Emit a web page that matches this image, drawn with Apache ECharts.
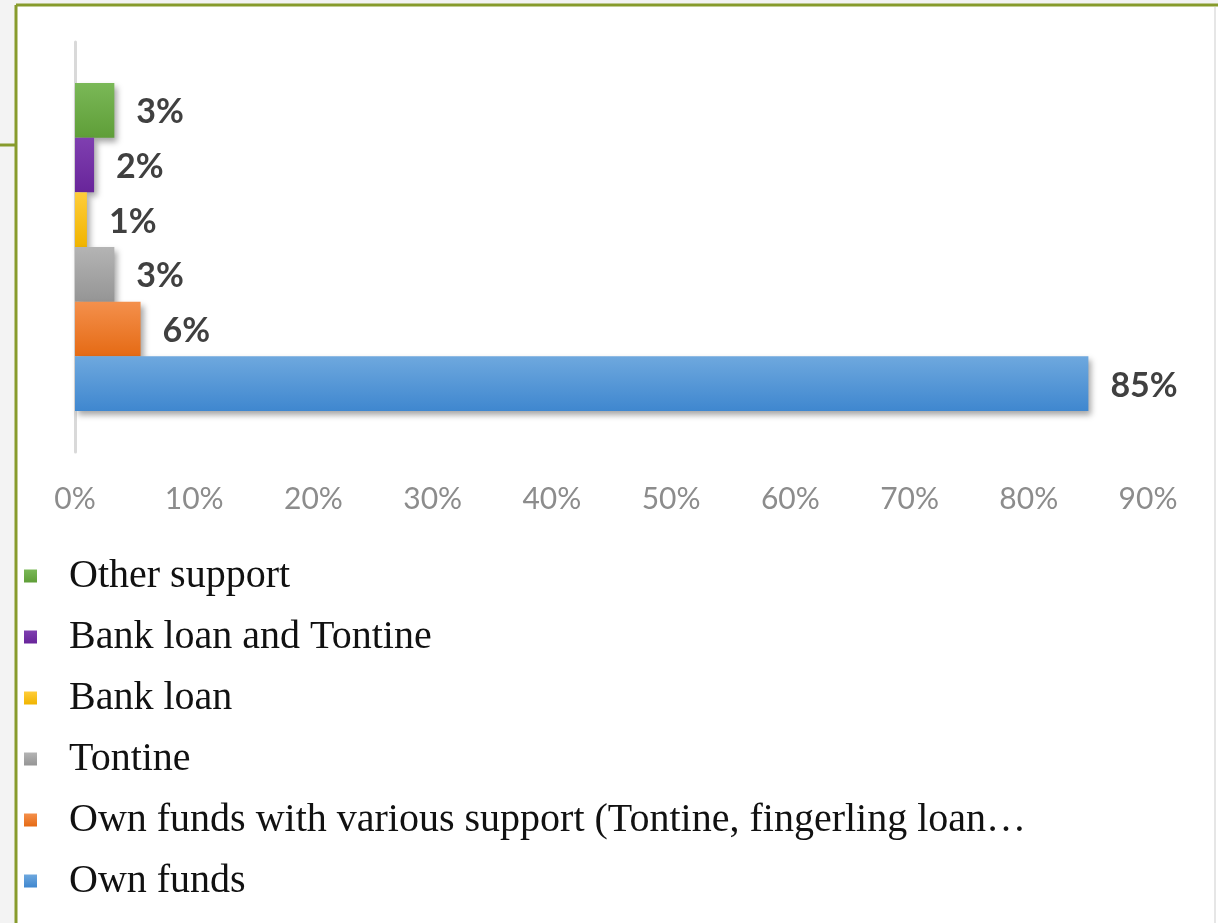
<!DOCTYPE html>
<html>
<head>
<meta charset="utf-8">
<script src="https://cdn.jsdelivr.net/npm/echarts@6/dist/echarts.min.js"></script>
<style>
  html, body { margin: 0; padding: 0; background: #fff; }
  #chart { width: 1218px; height: 923px; }
</style>
</head>
<body>
<div id="chart"></div>
<script>
// data (top bar first)
var categories = ['Funding source']
var seriesNames = [
  'Other support',
  'Bank loan and Tontine',
  'Bank loan',
  'Tontine',
  'Own funds with various support (Tontine, fingerling loan\u2026',
  'Own funds'
]
var values = [3.3, 1.6, 1, 3.3, 5.5, 85]
var topColors = ['#7ab857', '#7f3fb0', '#ffcd3a', '#b4b4b4', '#f4904c', '#6ea8de']
var bottomColors = ['#5f9e38', '#68259a', '#f0b400', '#959595', '#e56a14', '#3f87cf']
var xMax = 90
var xStep = 10

var myChart = echarts.init(document.getElementById('chart'))

var series = seriesNames.map(function (name, i) {
  return {
    name: name,
    type: 'bar',
    barGap: '0%',
    barCategoryGap: '20%',
    data: [values[i]],
    itemStyle: {
      color: new echarts.graphic.LinearGradient(0, 0, 0, 1, [
        { offset: 0, color: topColors[i] },
        { offset: 1, color: bottomColors[i] }
      ]),
      shadowColor: 'rgba(0,0,0,0.35)',
      shadowBlur: 6,
      shadowOffsetX: 3,
      shadowOffsetY: 4
    },
    label: {
      show: true,
      position: 'right',
      distance: 22,
      offset: [0, 2],
      fontFamily: 'Lato',
      fontWeight: 'bold',
      fontSize: 34,
      color: '#404040',
      formatter: function (p) { return Math.round(p.value) + '%' }
    }
  }
})

myChart.setOption({
  backgroundColor: '#fff',
  animation: false,
  grid: {
    left: 75,
    right: 70,
    top: 42,
    bottom: 471,
    containLabel: false
  },
  legend: {
    orient: 'vertical',
    left: 19,
    top: 550,
    data: seriesNames,
    icon: 'rect',
    itemWidth: 13,
    itemHeight: 13,
    itemGap: 19,
    textStyle: {
      fontFamily: 'Liberation Serif',
      fontSize: 40,
      lineHeight: 42,
      color: '#111',
      padding: [0, 0, 0, 27]
    }
  },
  xAxis: {
    type: 'value',
    min: 0,
    max: xMax,
    interval: xStep,
    axisLine: { show: false },
    axisTick: { show: false },
    splitLine: { show: false },
    axisLabel: {
      margin: 32,
      fontFamily: 'Lato',
      fontSize: 30,
      color: '#8c8c8c',
      formatter: '{value}%'
    }
  },
  yAxis: {
    type: 'category',
    data: categories,
    axisLine: { show: true, lineStyle: { color: '#d9d9d9', width: 3 } },
    axisTick: { show: false },
    axisLabel: { show: false }
  },
  series: series,
  graphic: [
    { type: 'rect', shape: { x: 0, y: 0, width: 16, height: 923 }, style: { fill: '#f3f3f3' }, silent: true },
    { type: 'rect', shape: { x: 0, y: 0, width: 1218, height: 5 }, style: { fill: '#f3f3f3' }, silent: true },
    { type: 'line', shape: { x1: 16, y1: 5, x2: 1218, y2: 5 }, style: { stroke: '#879b2c', lineWidth: 3 }, silent: true },
    { type: 'line', shape: { x1: 16, y1: 5, x2: 16, y2: 923 }, style: { stroke: '#879b2c', lineWidth: 3 }, silent: true },
    { type: 'line', shape: { x1: 0, y1: 145, x2: 16, y2: 145 }, style: { stroke: '#879b2c', lineWidth: 3 }, silent: true },
    { type: 'line', shape: { x1: 1215, y1: 7, x2: 1215, y2: 923 }, style: { stroke: '#e6e6e6', lineWidth: 2 }, silent: true }
  ]
})
</script>
</body>
</html>
